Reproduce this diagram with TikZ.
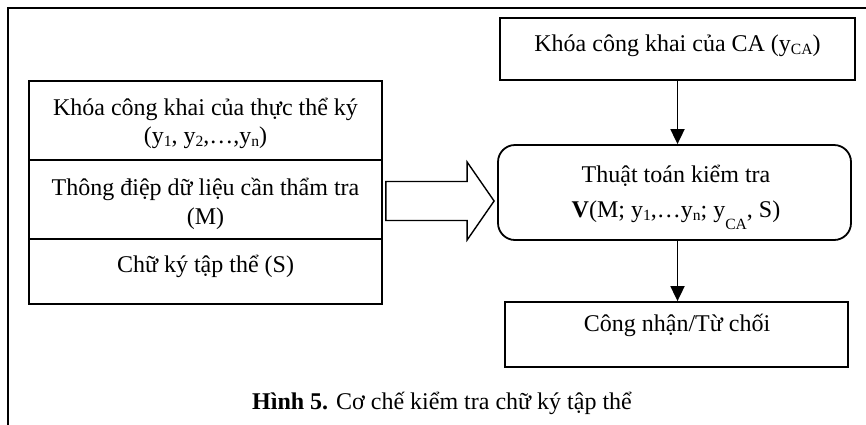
\documentclass[tikz,border=0pt]{standalone}
\usepackage{fontspec}
\setmainfont{Liberation Serif}
\usetikzlibrary{arrows.meta,calc}
% small lowered index text, and a deeper one for the CA index in V(...)
\newcommand\smsub[1]{\raisebox{-3.5pt}{\fontsize{15.6}{15.6}\selectfont #1}}
\newcommand\deepsub[1]{\raisebox{-12pt}{\fontsize{15.6}{15.6}\selectfont #1}}
\begin{document}
\begin{tikzpicture}[x=1pt,y=-1pt,
  box/.style={draw,line width=1.8pt,rectangle,inner sep=0pt},
  rbox/.style={box,rounded corners=17pt},
  lbl/.style={anchor=base,inner sep=0pt,font=\fontsize{24}{28}\selectfont},
  flow/.style={line width=1.8pt,-{Triangle[length=15pt,width=14pt]}},
  blockarrow/.style={draw,line width=1.4pt,line join=miter}]
\useasboundingbox (0,0) rectangle (866,424);
% outer frame, running past the right and bottom edges
\begin{scope}
  \clip (0,0) rectangle (866,424);
  \draw[line width=2.2pt] (8,8) rectangle (900,460);
\end{scope}

% left stack of inputs
\node[box,minimum width=353pt,minimum height=79pt] (keys) at (205.5,120.5) {};
\node[box,minimum width=353pt,minimum height=79pt] (msg)  at (205.5,199.5) {};
\node[box,minimum width=353pt,minimum height=65pt] (sig)  at (205.5,271.5) {};
\node[lbl] (keysA) at (205.5,115) {Khóa công khai của thực thể ký};
\node[lbl] (keysB) at (205.5,143) {(y\smsub{1}, y\smsub{2},…,y\smsub{n})};
\node[lbl] (msgA)  at (205.5,195) {Thông điệp dữ liệu cần thẩm tra};
\node[lbl] (msgB)  at (205.5,224) {(M)};
\node[lbl] (sigA)  at (205.5,272) {Chữ ký tập thể (S)};

% right column
\node[box,minimum width=355pt,minimum height=62pt] (ca) at (677.5,49) {};
\node[lbl] (caA) at (677.5,51) {Khóa công khai của CA (y\smsub{CA})};

\node[rbox,minimum width=353pt,minimum height=95pt] (algo) at (674.5,192.5) {};
\node[lbl] (algoA) at (676,182) {Thuật toán kiểm tra};
\node[lbl] (algoB) at (676,217) {\textbf{V}(M; y\smsub{1},…y\smsub{n}; y\deepsub{CA}, S)};

\node[box,minimum width=343pt,minimum height=65pt] (res) at (676.5,334.5) {};
\node[lbl] (resA) at (677,331) {Công nhận/Từ chối};

% connectors
\draw[flow] (ca.south) -- (ca.south |- algo.north);
\draw[flow] (ca.south |- algo.south) -- (ca.south |- res.north);

% block arrow from the inputs to the algorithm
\coordinate (bs) at ($(msg.east)+(3,1.5)$);
\coordinate (bt) at ($(bs -| algo.west)+(-3,0)$);
\draw[blockarrow] ($(bs)+(0,-19.5)$) -- ($(bt)+(-27,-19.5)$) -- ($(bt)+(-27,-39)$)
  -- (bt) -- ($(bt)+(-27,39)$) -- ($(bt)+(-27,19.5)$) -- ($(bs)+(0,19.5)$) -- cycle;

% caption
\node[lbl] (cap) at (442,409) {\textbf{Hình 5.} Cơ chế kiểm tra chữ ký tập thể};
\end{tikzpicture}
\end{document}
